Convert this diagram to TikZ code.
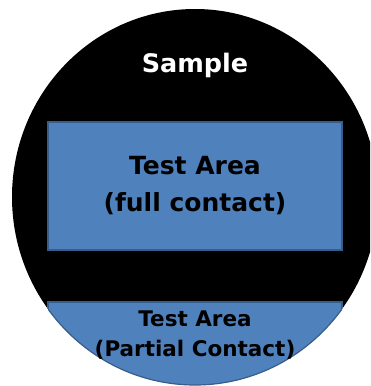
\documentclass[tikz,border=0pt]{standalone}
\usepackage{fontspec}
\setmainfont{DejaVu Sans}
\usetikzlibrary{positioning}
\definecolor{areablue}{HTML}{4F81BD}
\definecolor{areaedge}{HTML}{385D8A}

\begin{document}
\begin{tikzpicture}[x=1pt, y=-1pt,
        area/.style={draw=areaedge, fill=areablue, line width=1.2pt},
        title/.style={text=white, font=\bfseries\fontsize{25.5}{30}\selectfont},
        label/.style={align=center, inner sep=0pt}
    ]
        \useasboundingbox (0,0) rectangle (370,386);
        \clip (0,0) rectangle (370,386);

        % Sample disc
        \fill[black] (195,197) ellipse [x radius=183pt, y radius=188pt];
        \node[title, anchor=base] (sample) at (195,72) {Sample};

        % Full contact area
        \node[area, minimum width=294pt, minimum height=128pt, inner sep=0pt] (full) at (195,186) {};
        \node[label, font=\bfseries\fontsize{25}{37}\selectfont] (fulltext) at (full.center) {Test Area\\(full contact)};

        % Partial contact area, cut by the disc edge
        \begin{scope}
            \clip (195,197) ellipse [x radius=183pt, y radius=188pt];
            \draw[area] (48,302) rectangle (342,420);
        \end{scope}
        \begin{scope}
            \clip (48,302) rectangle (342,420);
            \draw[areaedge, line width=1.2pt] (195,197) ellipse [x radius=183pt, y radius=188pt];
        \end{scope}
        \node[label, font=\bfseries\fontsize{21.5}{30}\selectfont] (partial) at (195,335.5) {Test Area\\(Partial Contact)};

\end{tikzpicture}
\end{document}
